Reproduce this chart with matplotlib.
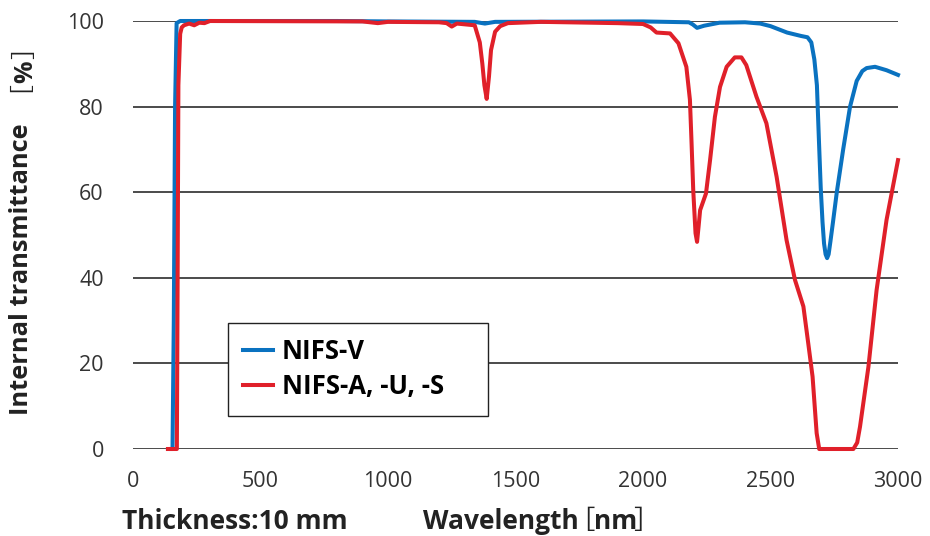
import matplotlib
matplotlib.use('Agg')
import matplotlib.pyplot as plt

plt.rcParams['font.family'] = ['Open Sans', 'Noto Sans CJK JP', 'DejaVu Sans']

# NIFS-V
wl_v = [150, 155, 160, 165, 171, 185, 300, 800, 1000, 1340, 1380, 1420, 2000, 2180,
        2195, 2212, 2240, 2300, 2400, 2460, 2500, 2565, 2620, 2645, 2660, 2672, 2682,
        2690, 2697, 2704, 2710, 2716, 2722, 2728, 2735, 2745, 2760, 2785, 2812, 2838,
        2860, 2877, 2910, 2955, 3000]
t_v = [0, 0, 30, 80, 99.5, 100, 100, 100, 99.9, 99.8, 99.4, 99.8, 99.9, 99.7,
       99.2, 98.4, 98.9, 99.6, 99.7, 99.4, 98.8, 97.3, 96.5, 96.2, 95.0, 91, 85,
       72, 61, 53, 48, 45.5, 44.6, 45.5, 48.5, 53, 60, 70, 80, 86,
       88.3, 89.0, 89.3, 88.5, 87.4]

# NIFS-A, -U, -S
wl_a = [137, 172, 175, 178, 185, 191, 200, 220, 240, 260, 280, 302, 900, 960, 1000,
        1200, 1230, 1250, 1270, 1340, 1360, 1370, 1378, 1387, 1396, 1404, 1420, 1440,
        1470, 1600, 1900, 2000, 2030, 2053, 2106, 2139, 2170, 2184, 2190, 2197, 2206,
        2212, 2218, 2224, 2247, 2263, 2282, 2302, 2328, 2360, 2386, 2405, 2445, 2484,
        2524, 2563, 2596, 2629, 2648, 2665, 2681, 2691, 2825, 2840, 2851, 2884, 2916,
        2955, 3000]
t_a = [0, 0, 40, 85, 97, 98.5, 99.0, 99.4, 99.0, 99.6, 99.5, 100, 99.9, 99.5, 99.8,
       99.7, 99.5, 98.7, 99.4, 99.0, 95, 90, 85, 81.8, 87, 93.2, 97.5, 98.8,
       99.5, 99.8, 99.5, 99.3, 98.5, 97.3, 97.1, 94.8, 89.3, 81.6, 72.2, 60.5, 50.4,
       48.4, 52, 55.8, 59.7, 67.5, 77.6, 84.6, 89.3, 91.5, 91.5, 89.7, 82.3, 76.1,
       63.6, 48.8, 39.5, 33.3, 24.7, 16.9, 3.7, 0, 0, 1.5, 5.2, 19.2, 37.1,
       53.5, 67.5]

xticks = [0, 500, 1000, 1500, 2000, 2500, 3000]
yticks = [0, 20, 40, 60, 80, 100]

W, H = 930, 536
fig = plt.figure(figsize=(W/100, H/100), dpi=100)
ax = fig.add_axes([133/W, 1-449/H, 765/W, 428/H])

ax.plot(wl_v, t_v, color='#0a72c0', lw=2.9, label='NIFS-V', clip_on=False, zorder=3)
ax.plot(wl_a, t_a, color='#e0202a', lw=2.9, label='NIFS-A, -U, -S', clip_on=False, zorder=4)

ax.set_xlim(0, 3000)
ax.set_ylim(0, 100)
ax.set_xticks(xticks)
ax.set_yticks(yticks)
for s in ax.spines.values():
    s.set_visible(False)
ax.yaxis.grid(True, color='#1a1a1a', lw=1.1)
ax.tick_params(length=0, labelsize=15.5, labelcolor='#333333')
ax.tick_params(axis='y', pad=21)
ax.tick_params(axis='x', pad=16)

# legend box 228..488 x 323..409 px
lx0, lx1, ly0, ly1 = (228-133)/765, (488-133)/765, (449-409)/428, (449-323)/428
leg = ax.legend(loc='upper left', bbox_to_anchor=(lx0, ly0, lx1-lx0, ly1-ly0),
                mode='expand', borderaxespad=0,
                fancybox=False, edgecolor='#222222', framealpha=1,
                prop={'weight': 'bold', 'size': 18.5}, handlelength=1.15,
                handletextpad=0.35, borderpad=0.6, labelspacing=0.3)
leg.get_frame().set_linewidth(1.0)

dark = '#222222'
# y label: bold text, thin full-width brackets, bold %
fig.text(22/W, 1-415/H, 'Internal transmittance', rotation=90, ha='center', va='bottom',
         fontsize=18.3, fontweight='bold', color=dark)
fig.text(14.5/W, 1-80/H, '［', rotation=90, rotation_mode='anchor', ha='center',
         va='baseline', fontsize=18, color=dark)
fig.text(32/W, 1-72/H, '%', rotation=90, rotation_mode='anchor', ha='center',
         va='baseline', fontsize=18, fontweight='bold', color=dark)
fig.text(32/W, 1-46.5/H, '］', rotation=90, rotation_mode='anchor', ha='center',
         va='baseline', fontsize=18, color=dark)

# x labels
base = 1-529/H
fig.text(122/W, base, 'Thickness:10 mm', ha='left', va='baseline',
         fontsize=19, fontweight='bold', color=dark)
fig.text(423/W, base, 'Wavelength', ha='left', va='baseline',
         fontsize=19, fontweight='bold', color=dark)
fig.text(581/W, base, '［', ha='center', va='baseline', fontsize=19, color=dark)
fig.text(594/W, base, 'nm', ha='left', va='baseline', fontsize=19,
         fontweight='bold', color=dark)
fig.text(646/W, base, '］', ha='center', va='baseline', fontsize=19, color=dark)

fig.savefig('out.png', dpi=100)
